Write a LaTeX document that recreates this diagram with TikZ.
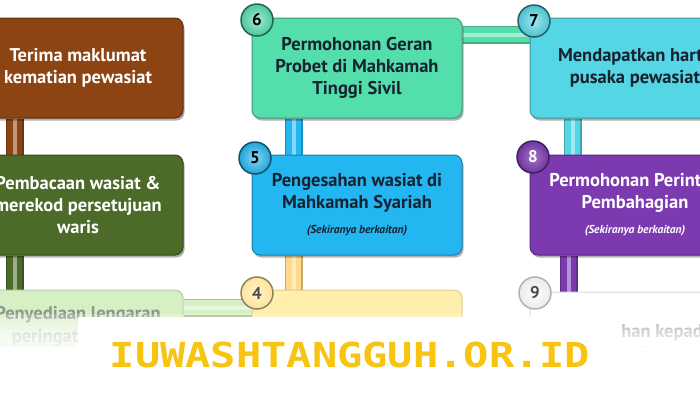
\documentclass[tikz,border=0pt]{standalone}
\usepackage{fontspec}
\setmainfont{PT Sans}
\newfontfamily\sitefont{DejaVu Sans Mono}
\usetikzlibrary{shadows}
\pgfdeclarelayer{background}
\pgfsetlayers{background,main}
\definecolor{cBrown}{RGB}{139,68,18}
\definecolor{cOlive}{RGB}{76,106,40}
\definecolor{cTeal}{RGB}{84,222,172}
\definecolor{cCyan}{RGB}{84,214,228}
\definecolor{cBlue}{RGB}{36,182,240}
\definecolor{cPurple}{RGB}{124,58,176}
\definecolor{cPale}{RGB}{214,240,196}
\definecolor{cCream}{RGB}{255,238,172}
\definecolor{cGold}{RGB}{247,196,18}
\definecolor{cInk}{RGB}{22,34,48}
\definecolor{cFaint}{RGB}{140,150,140}
\newcommand\sknote{{\fontsize{11.5}{13}\selectfont\itshape(Sekiranya berkaitan)}}
\begin{document}
\begin{tikzpicture}[x=1pt,y=-1pt,
  stepbox/.style={rounded corners=8pt, minimum width=210pt, minimum height=100pt,
    inner sep=0pt, align=center, line width=1pt,
    font=\fontsize{18.5}{22}\selectfont\bfseries,
    drop shadow={shadow xshift=1.5pt, shadow yshift=-2.5pt, opacity=0.3, fill=black}},
  fadedbox/.style={rounded corners=8pt, minimum width=210pt, minimum height=100pt,
    inner sep=0pt, align=center, line width=1pt,
    font=\fontsize{18.5}{22}\selectfont\bfseries},
  numdot/.style={circle, minimum size=32pt, inner sep=0pt, line width=1.5pt,
    font=\fontsize{17}{17}\selectfont\bfseries},
  linkbar/.style={draw=#1!78!black, line width=18pt,
    postaction={draw=#1, line width=15pt},
    postaction={draw=#1!55!white, line width=4pt}}
]
\useasboundingbox (0,0) rectangle (700,400);
\clip (0,0) rectangle (700,400);

% row 1
\node[stepbox, fill=cBrown, draw=cBrown!70!black, text=white] (b1) at (78,68) {Terima maklumat\\kematian pewasiat};
\node[stepbox, fill=cTeal, draw=cTeal!70!black, text=cInk] (b6) at (357,68) {Permohonan Geran\\Probet di Mahkamah\\Tinggi Sivil};
\node[stepbox, fill=cCyan, draw=cCyan!70!black, text=cInk] (b7) at (635,68) {Mendapatkan harta\\pusaka pewasiat};
% row 2
\node[stepbox, fill=cOlive, draw=cOlive!70!black, text=white] (b2) at (78,205) {Pembacaan wasiat \&\\merekod persetujuan\\waris};
\node[stepbox, fill=cBlue, draw=cBlue!70!black, text=cInk] (b5) at (357,205) {Pengesahan wasiat di\\Mahkamah Syariah\\[3pt]\sknote};
\node[stepbox, fill=cPurple, draw=cPurple!70!black, text=white] (b8) at (635,205) {Permohonan Perintah\\Pembahagian\\[3pt]\sknote};
% row 3
\node[fadedbox, fill=cPale, draw=cPale!85!black] (b3) at (78,340) {};
\node[fadedbox, fill=cCream, draw=cCream!85!black] (b4) at (357,340) {};
\node[fadedbox, fill=white, draw=black!15, text=black!55] (b9) at (635,342) {Penyerahan kepada\\waris};
\node[font=\fontsize{18.5}{23}\selectfont\bfseries, align=center, text=cFaint] (t3) at (78,326) {Penyediaan lengaran\\peringatan harta};

% connectors
\begin{pgfonlayer}{background}
\draw[linkbar=cBrown] ([xshift=42pt]b1.south west) -- ([xshift=42pt]b2.north west);
\draw[linkbar=cOlive] ([xshift=42pt]b2.south west) -- ([xshift=42pt]b3.north west);
\draw[linkbar=cBlue] ([xshift=42pt]b6.south west) -- ([xshift=42pt]b5.north west);
\draw[linkbar=cCream!80!orange] ([xshift=42pt]b5.south west) -- ([xshift=42pt]b4.north west);
\draw[linkbar=cCyan] ([xshift=43pt]b7.south west) -- ([xshift=43pt]b8.north west);
\draw[linkbar=cPurple] ([xshift=39pt]b8.south west) -- ([xshift=39pt]b9.north west);
\draw[linkbar=cTeal] ([yshift=-17pt]b6.north east) -- ([yshift=-17pt]b7.north west);
\draw[linkbar=cPale] ([yshift=-18pt]b3.north east) -- ([yshift=-18pt]b4.north west);
\end{pgfonlayer}

% number badges
\node[numdot, inner color=cTeal!55!white, outer color=cTeal!90!black, draw=cTeal!45!black, text=black] (n6) at (257,20) {6};
\node[numdot, inner color=cBlue!55!white, outer color=cBlue!90!black, draw=cBlue!45!black, text=black] (n5) at (255,158) {5};
\node[numdot, inner color=cCyan!55!white, outer color=cCyan!90!black, draw=cCyan!45!black, text=black] (n7) at (534,21) {7};
\node[numdot, inner color=cPurple!70!white, outer color=cPurple!90!black, draw=cPurple!55!black, text=white] (n8) at (533,157) {8};
\node[numdot, inner color=cCream!60!white, outer color=cCream!90!orange, draw=cCream!55!black, text=black!70] (n4) at (257,293) {4};
\node[numdot, inner color=white, outer color=black!8, draw=black!30, text=black!70] (n9) at (535,293) {9};

% fade and overlay
\foreach \k in {0,...,8} \fill[white, opacity=0.22] (0,{314+4*\k}) rectangle (700,400);
\fill[white] (78,317) rectangle (621,400);
\fill[white] (0,347) rectangle (700,400);

\node[font=\sitefont\bfseries\fontsize{42}{42}\selectfont, text=cGold, inner sep=0pt] (site) at (350,355) {\scalebox{1}[0.82]{IUWASHTANGGUH.OR.ID}};
\end{tikzpicture}
\end{document}
